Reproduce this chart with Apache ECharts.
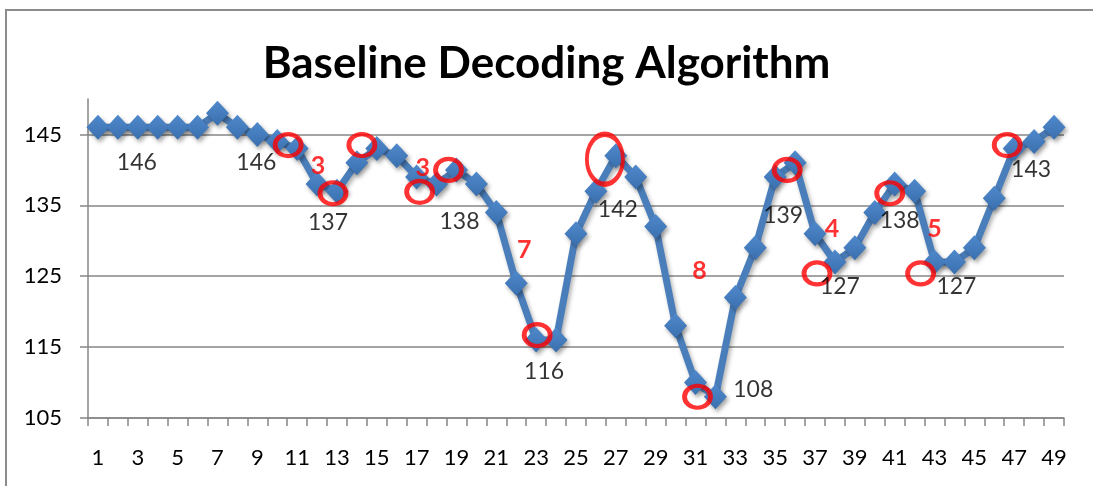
<!DOCTYPE html>
<html>
<head>
<meta charset="utf-8">
<script src="https://cdn.jsdelivr.net/npm/echarts@6/dist/echarts.min.js"></script>
<style>
  html,body{margin:0;padding:0;background:#fff;}
  #chart{width:1093px;height:486px;}
</style>
</head>
<body>
<div id="chart"></div>
<script>
// x categories 1..49
const categories = ['1','2','3','4','5','6','7','8','9','10','11','12','13','14','15','16','17','18','19','20',
  '21','22','23','24','25','26','27','28','29','30','31','32','33','34','35','36','37','38','39','40',
  '41','42','43','44','45','46','47','48','49'];
const values = [146,146,146,146,146,146,148,146,145,144,143,138,137,141,143,142,139,138,140,138,
  134,124,116,116,131,137,142,139,132,118,110,108,122,129,139,141,131,127,129,134,
  138,137,127,127,129,136,143,144,146];
const yTicks = [105,115,125,135,145];

// red circle marks, [position, value]
const circleMarks = [[10.55,143.5],[12.8,136.7],[14.25,143.5],[17.15,136.9],[18.6,140],
  [23.05,116.7],[31.1,108],[35.6,140],[37.1,125.4],[40.75,136.7],[42.3,125.4],[46.65,143.5]];
const bigEllipse = [[26.45,141.5]];
// red counts
const redNotes = [[12.05,140.5,'3'],[17.3,140.3,'3'],[22.4,128.7,'7'],[31.2,125.8,'8'],[37.85,131.6,'4'],[43,131.6,'5']];
// black value notes
const blackNotes = [[2.95,141.1,'146'],[8.95,141.1,'146'],[12.55,132.5,'137'],[19.15,132.7,'138'],
  [23.4,111.6,'116'],[27.1,134.4,'142'],[33.9,109,'108'],[35.4,133.5,'139'],[38.25,123.5,'127'],
  [41.25,132.9,'138'],[44.1,123.5,'127'],[47.85,140,'143']];

const FONT = 'Lato';
const axisGray = '#868686';

const chart = echarts.init(document.getElementById('chart'));
const option = {
  animation:false,
  backgroundColor:'#fff',
  graphic:[{
    type:'rect',
    shape:{x:6,y:10,width:1200,height:600},
    style:{fill:'none',stroke:'#8c8c8c',lineWidth:2},
    silent:true
  }],
  title:{
    text:'Baseline Decoding Algorithm',
    left:'center',
    top:37,
    textStyle:{fontFamily:FONT,fontWeight:'bold',fontSize:44,color:'#000'}
  },
  grid:{left:88,right:29,top:99,bottom:68},
  xAxis:[{
    type:'category',
    data:categories,
    boundaryGap:true,
    axisLine:{lineStyle:{color:axisGray,width:1.5}},
    axisTick:{show:true,interval:0,length:8,lineStyle:{color:axisGray,width:1.5}},
    axisLabel:{interval:1,margin:29,fontFamily:FONT,fontSize:22,color:'#000'},
    splitLine:{show:false}
  },{
    type:'value',
    min:0.5,
    max:49.5,
    show:false
  }],
  yAxis:{
    type:'value',
    min:105,
    max:150,
    axisLine:{show:true,lineStyle:{color:axisGray,width:1.5}},
    axisTick:{show:true,length:8,customValues:yTicks,lineStyle:{color:axisGray,width:1.5}},
    axisLabel:{customValues:yTicks,margin:26,fontFamily:FONT,fontSize:22,color:'#000'},
    splitLine:{show:true,lineStyle:{color:axisGray,width:1.5}}
  },
  series:[
    {
      type:'line',
      data:values,
      symbol:'diamond',
      symbolSize:[23,25],
      showSymbol:true,
      showAllSymbol:true,
      lineStyle:{color:'#4a7ebb',width:7,shadowColor:'rgba(0,0,0,0.3)',shadowBlur:4,shadowOffsetX:2,shadowOffsetY:3},
      itemStyle:{
        color:new echarts.graphic.LinearGradient(0,0,0,1,[{offset:0,color:'#4f89cc'},{offset:1,color:'#3a6fae'}]),
        shadowColor:'rgba(0,0,0,0.35)',shadowBlur:4,shadowOffsetX:2,shadowOffsetY:3
      },
      z:2
    },
    {
      type:'scatter',
      xAxisIndex:1,
      data:circleMarks,
      symbol:'circle',
      symbolSize:[26,22],
      itemStyle:{color:'rgba(0,0,0,0)',borderColor:'#ff0000',borderWidth:4.5},
      z:5
    },
    {
      type:'scatter',
      xAxisIndex:1,
      data:bigEllipse,
      symbol:'circle',
      symbolSize:[36,50],
      itemStyle:{color:'rgba(0,0,0,0)',borderColor:'#ff0000',borderWidth:4.5},
      z:5
    },
    {
      type:'scatter',
      xAxisIndex:1,
      data:redNotes,
      symbolSize:0,
      label:{show:true,position:'inside',formatter:p=>p.value[2],fontFamily:FONT,fontWeight:'bold',fontSize:25,color:'#ff0000'},
      z:6
    },
    {
      type:'scatter',
      xAxisIndex:1,
      data:blackNotes,
      symbolSize:0,
      label:{show:true,position:'inside',formatter:p=>p.value[2],fontFamily:FONT,fontSize:23,color:'#000'},
      z:6
    }
  ]
};
chart.setOption(option);
</script>
</body>
</html>
